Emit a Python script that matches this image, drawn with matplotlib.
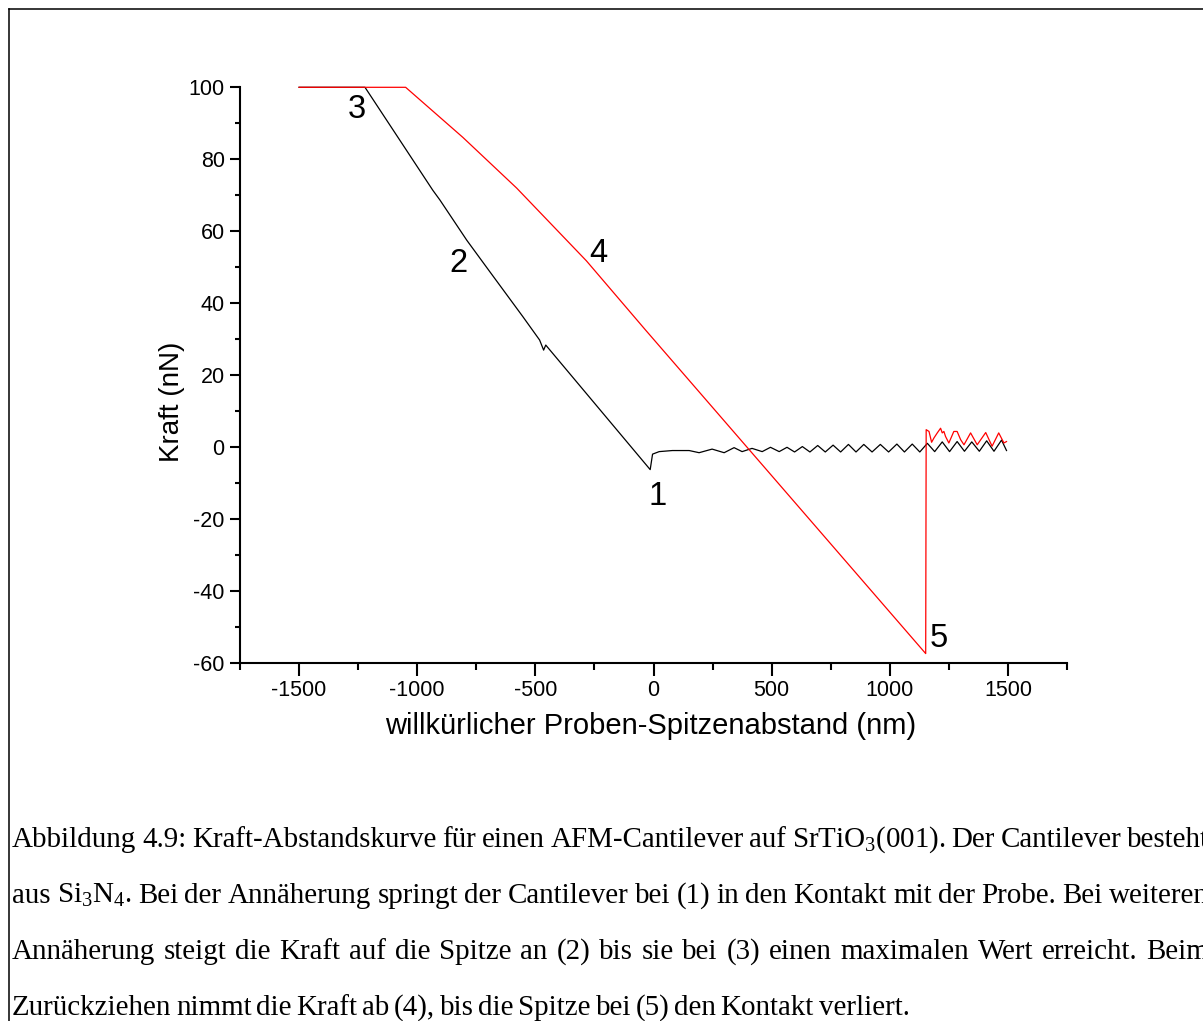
import matplotlib
matplotlib.use('Agg')
import matplotlib.pyplot as plt
from matplotlib import font_manager
from matplotlib.lines import Line2D

W, H, DPI = 1203, 1021, 100

# ---------------- data ----------------
approach_x = [-1500, -1221, -934, -904, -790, -693, -553, -482, -465, -456, -14, -4, 24, 80,
              151, 193, 248, 299, 341, 375, 417, 460, 495, 532, 565, 597, 630, 662, 695,
              727, 760, 792, 825, 857, 890, 925, 960, 995, 1030, 1062, 1095, 1127, 1159,
              1190, 1222, 1253, 1285, 1316, 1347, 1379, 1410, 1441, 1473, 1494]
approach_y = [100, 100, 71.4, 68.7, 57.5, 48.8, 36.3, 29.8, 27.0, 28.4, -6.2, -1.9, -1.2, -0.9,
              -0.9, -1.5, -0.5, -1.5, -0.1, -1.2, -0.3, -1.2, 0.0, -1.2, 0.0, -1.3, 0.2, -1.3, 0.5,
              -1.3, 0.6, -1.3, 0.8, -1.3, 0.8, -1.3, 0.8, -1.3, 0.9, -1.3, 0.9, -1.3, 1.1,
              -1.2, 1.5, -1.2, 1.6, -1.1, 1.5, -1.1, 1.8, -1.1, 2.0, -0.9]

retract_x = [-1500, -1049, -807, -579, -284, -34, 511, 1152, 1154, 1166, 1177, 1187, 1201,
             1215, 1222, 1229, 1236, 1250, 1271, 1285, 1300, 1314, 1342, 1370, 1406, 1433,
             1461, 1483, 1494]
retract_y = [100, 100, 86.1, 72.0, 51.8, 32.6, -8.7, -57.3, 4.9, 4.4, 1.4, 2.6, 4.0,
             5.3, 4.0, 4.4, 3.0, 1.2, 4.4, 4.4, 2.1, 0.7, 4.0, 0.7, 4.1, 0.3,
             4.0, 1.2, 1.6]

x_ticks = [-1500, -1000, -500, 0, 500, 1000, 1500]
x_tick_labels = ['-1500', '-1000', '-500', '0', '500', '1000', '1500']
x_minor_ticks = [-1750, -1250, -750, -250, 250, 750, 1250, 1750]
y_ticks = [-60, -40, -20, 0, 20, 40, 60, 80, 100]
y_tick_labels = ['-60', '-40', '-20', '0', '20', '40', '60', '80', '100']
y_minor_ticks = [-50, -30, -10, 10, 30, 50, 70, 90]

point_labels = ['1', '2', '3', '4', '5']
point_label_x = [16, -825, -1256, -234, 1207]
point_label_y = [-16.0, 48.8, 91.5, 51.5, -55.5]

x_label = 'willkürlicher Proben-Spitzenabstand (nm)'
y_label = 'Kraft (nN)'

caption_lines = [
    'Abbildung 4.9: Kraft-Abstandskurve für einen AFM-Cantilever auf SrTiO$_\\mathrm{3}$(001). Der Cantilever besteht',
    'aus Si$_\\mathrm{3}$N$_\\mathrm{4}$. Bei der Annäherung springt der Cantilever bei (1) in den Kontakt mit der Probe. Bei weiteren',
    'Annäherung steigt die Kraft auf die Spitze an (2) bis sie bei (3) einen maximalen Wert erreicht. Beim',
    'Zurückziehen nimmt die Kraft ab (4), bis die Spitze bei (5) den Kontakt verliert.',
]

# ---------------- fonts ----------------
def has_font(name):
    try:
        font_manager.findfont(font_manager.FontProperties(family=name), fallback_to_default=False)
        return True
    except Exception:
        return False

NARROW = has_font('Liberation Sans Narrow')
SANS = 'Liberation Sans'
if NARROW:
    tick_font, tick_size = 'Liberation Sans Narrow', 18
    ylab_font, ylab_size = 'Liberation Sans Narrow', 24
else:
    tick_font, tick_size = SANS, 15.5
    ylab_font, ylab_size = SANS, 20

plt.rcParams['mathtext.fontset'] = 'custom'
plt.rcParams['mathtext.rm'] = 'Liberation Serif'
plt.rcParams['mathtext.it'] = 'Liberation Serif:italic'
plt.rcParams['mathtext.bf'] = 'Liberation Serif:bold'

# ---------------- figure ----------------
fig = plt.figure(figsize=(W / DPI, H / DPI), dpi=DPI)
fig.patch.set_facecolor('white')

# frame lines (top and left)
fig.add_artist(Line2D([8.5 / W, 8.5 / W], [0, 1 - 9.5 / H], transform=fig.transFigure,
                      color='black', lw=1.1))
fig.add_artist(Line2D([8.5 / W, 1], [1 - 9.5 / H, 1 - 9.5 / H], transform=fig.transFigure,
                      color='black', lw=1.1))

ax_left, ax_right, ax_top, ax_bottom = 240, 1067, 87.3, 663.3
ax = fig.add_axes([ax_left / W, 1 - ax_bottom / H, (ax_right - ax_left) / W,
                   (ax_bottom - ax_top) / H])

ax.plot(approach_x, approach_y, color='black', lw=0.9, clip_on=False, zorder=3)
ax.plot(retract_x, retract_y, color='#ff0000', lw=0.9, clip_on=False, zorder=4)

ax.set_xlim(-1750, 1750)
ax.set_ylim(-60, 100)

for s in ['top', 'right']:
    ax.spines[s].set_visible(False)
for s in ['left', 'bottom']:
    ax.spines[s].set_linewidth(1.5)

ax.set_xticks(x_ticks, labels=x_tick_labels, fontfamily=tick_font, fontsize=tick_size)
ax.set_xticks(x_minor_ticks, minor=True)
ax.set_yticks(y_ticks, labels=y_tick_labels, fontfamily=tick_font, fontsize=tick_size)
ax.set_yticks(y_minor_ticks, minor=True)

ax.tick_params(axis='x', which='major', direction='out', length=9, width=1.5, pad=3)
ax.tick_params(axis='x', which='minor', direction='out', length=5, width=1.5)
ax.tick_params(axis='y', which='major', direction='out', length=7, width=1.5, pad=4)
ax.tick_params(axis='y', which='minor', direction='out', length=3.5, width=1.5)

ax.set_xlabel(x_label, fontfamily=SANS, fontsize=21)
ax.xaxis.set_label_coords((650.5 - ax_left) / (ax_right - ax_left),
                          -(712 - ax_bottom) / (ax_bottom - ax_top))
ax.set_ylabel(y_label, fontfamily=ylab_font, fontsize=ylab_size)
ax.yaxis.set_label_coords((185 - ax_left) / (ax_right - ax_left),
                          (ax_bottom - 401.5) / (ax_bottom - ax_top))

for lab, lx, ly in zip(point_labels, point_label_x, point_label_y):
    ax.text(lx, ly, lab, ha='center', va='baseline', fontfamily=SANS, fontsize=23.5)

# ---------------- caption (justified, tight word spacing) ----------------
renderer = fig.canvas.get_renderer()
cap_family = 'Liberation Serif'
left_px, right_px = 12, 1209
baselines = [847, 903, 959, 1015]
last_width = 900.0
gap_em = 0.16

# size the caption so the last (unjustified) line spans the same width as the reference
ref_size = 20.0
words_last = caption_lines[-1].split(' ')
probes = [fig.text(0, 0, wd, fontfamily=cap_family, fontsize=ref_size) for wd in words_last]
sum_w = sum(p.get_window_extent(renderer).width for p in probes)
for p in probes:
    p.remove()
em_px = ref_size * DPI / 72.0
# width(size) = (sum_w + gap_em*em_px*(n-1)) * size/ref_size
cap_size = ref_size * last_width / (sum_w + gap_em * em_px * (len(words_last) - 1))
cap_em_px = cap_size * DPI / 72.0

for i, line in enumerate(caption_lines):
    yf = 1 - baselines[i] / H
    words = line.split(' ')
    texts = [fig.text(0, yf, wd, fontfamily=cap_family, fontsize=cap_size,
                      ha='left', va='baseline') for wd in words]
    widths = [t.get_window_extent(renderer).width for t in texts]
    if i == len(caption_lines) - 1:
        gap = gap_em * cap_em_px
    else:
        gap = (right_px - left_px - sum(widths)) / (len(words) - 1)
    xpos = left_px
    for t, wd in zip(texts, widths):
        t.set_x(xpos / W)
        xpos += wd + gap

fig.savefig('out.png', dpi=DPI, facecolor='white')
